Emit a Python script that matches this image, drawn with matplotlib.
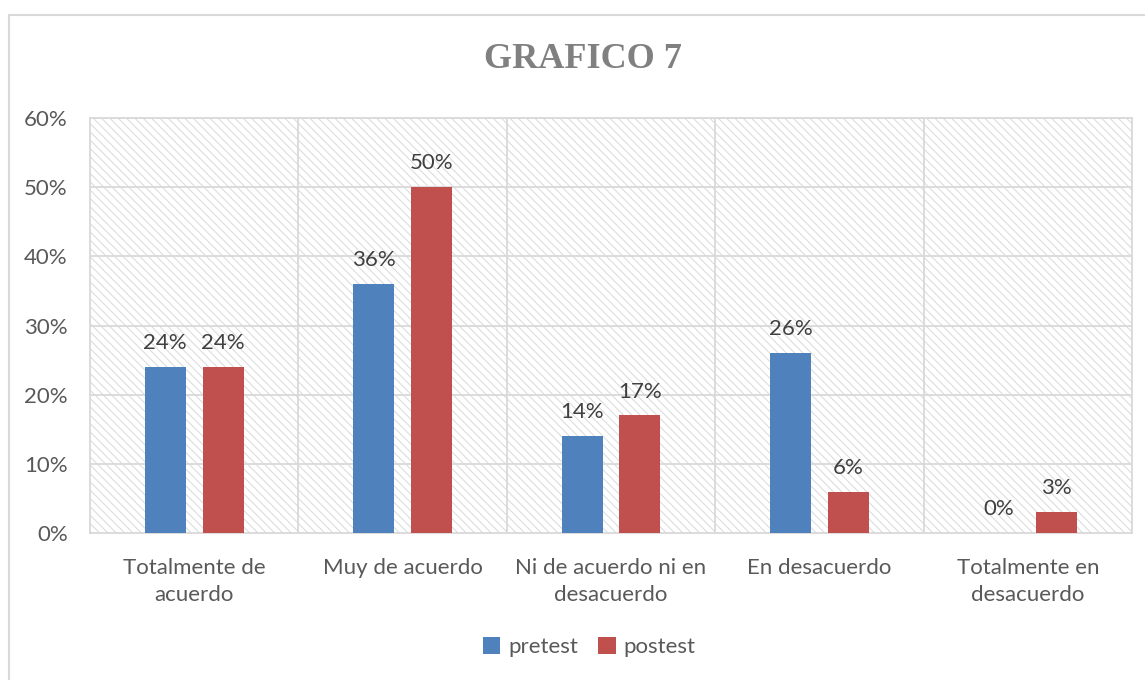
import matplotlib
matplotlib.use("Agg")
import matplotlib.pyplot as plt
import numpy as np
from matplotlib.patches import Rectangle

categories = ["Totalmente de\nacuerdo", "Muy de acuerdo", "Ni de acuerdo ni en\ndesacuerdo",
              "En desacuerdo", "Totalmente en\ndesacuerdo"]
pretest = [24, 36, 14, 26, 0]
postest = [24, 50, 17, 6, 3]
series_names = ["pretest", "postest"]
yticks = [0, 10, 20, 30, 40, 50, 60]

plt.rcParams['font.family'] = ['Lato', 'DejaVu Sans']
plt.rcParams['hatch.linewidth'] = 0.7
plt.rcParams['hatch.color'] = '#d9d9d9'

txt = '#595959'
grid = '#d9d9d9'
fs = 16

fig = plt.figure(figsize=(11.45, 6.8), dpi=100)
fig.patch.set_facecolor('white')
fig.patches.append(Rectangle((9/1145, -0.05), 1.2, 1 - 15/680 + 0.05, transform=fig.transFigure,
                             fill=False, edgecolor=grid, linewidth=1.5))

ax = fig.add_axes([90/1145, 1 - 533/680, (1132-90)/1145, (533-118)/680])
ax.patch.set_facecolor('white')
ax.patch.set_hatch('\\\\\\\\')
ax.patch.set_edgecolor('#d9d9d9')

x = np.arange(len(categories))
w = 0.197
off = 0.139
b1 = ax.bar(x - off, pretest, w, color='#4F81BD', label=series_names[0], zorder=3)
b2 = ax.bar(x + off, postest, w, color='#C0504D', label=series_names[1], zorder=3)

for bars, vals in ((b1, pretest), (b2, postest)):
    for r, v in zip(bars, vals):
        ax.annotate(f"{v}%", (r.get_x() + r.get_width()/2, v), xytext=(0, 10),
                    textcoords='offset points', ha='center', va='bottom',
                    fontsize=fs, color='#404040', zorder=4)

ax.set_xlim(-0.5, len(categories) - 0.5)
ax.set_ylim(0, 60)
ax.set_yticks(yticks)
ax.set_yticklabels([f"{t}%" for t in yticks], fontsize=fs, color=txt)
ax.set_xticks(x)
ax.set_xticklabels(categories, fontsize=fs, color=txt, linespacing=1.45)
ax.tick_params(length=0)
ax.tick_params(axis='y', pad=16)
ax.tick_params(axis='x', pad=18)

for t in yticks[1:]:
    ax.axhline(t, color=grid, linewidth=1.3, zorder=1)
for b in np.arange(0.5, len(categories) - 0.5, 1):
    ax.axvline(b, color=grid, linewidth=1.3, zorder=1)
for s in ax.spines.values():
    s.set_color(grid)
    s.set_linewidth(1.3)

fig.text(583/1145, 1 - 60/680, "GRAFICO 7", ha='center', va='center', fontsize=26,
         fontweight='bold', color='#808080', family=['Liberation Serif', 'DejaVu Serif'])

fig.legend(handles=[b1, b2], labels=series_names, loc='center', bbox_to_anchor=(589/1145, 1 - 647/680),
           ncol=2, frameon=False, fontsize=fs, labelcolor=txt, handlelength=0.8, handleheight=0.8,
           handletextpad=0.35, columnspacing=0.9)

fig.savefig('out.png', dpi=100)
